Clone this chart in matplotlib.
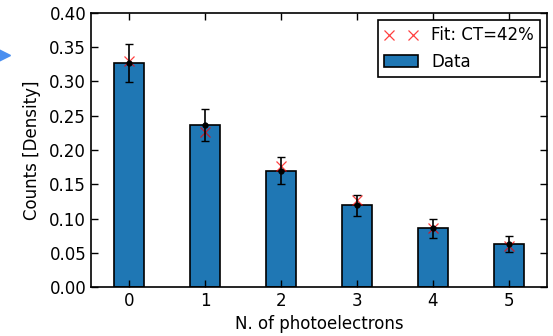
import numpy as np
import matplotlib.pyplot as plt
from matplotlib.lines import Line2D

# photoelectron counts
n_pe = np.array([0, 1, 2, 3, 4, 5])
density = np.array([0.327, 0.2365, 0.170, 0.119, 0.086, 0.063])
errors = np.array([0.028, 0.024, 0.020, 0.016, 0.014, 0.012])
fit = np.array([0.330, 0.226, 0.177, 0.127, 0.086, 0.060])

plt.rcParams['font.family'] = 'DejaVu Sans'
plt.rcParams['font.size'] = 12

fig = plt.figure(figsize=(5.53, 3.36), dpi=100)
ax = fig.add_axes([91/553, 1-287/336, 456/553, 274/336])

ax.bar(n_pe, density, width=0.4, color='#1f77b4', edgecolor='black',
       linewidth=1.2, label='Data', zorder=1)
ax.errorbar(n_pe, density, yerr=errors, fmt='o', color='black', ms=3.5,
            capsize=3, elinewidth=1.2, capthick=1, zorder=3)
ax.plot(n_pe, fit, 'x', color='red', ms=7, mew=0.9, alpha=0.75,
        label='Fit: CT=42%', zorder=2)

ax.set_xlim(-0.5, 5.5)
ax.set_ylim(0, 0.4)
ax.set_xticks(n_pe)
ax.set_yticks(np.arange(0, 0.401, 0.05))
ax.set_yticklabels(['%.2f' % v for v in np.arange(0, 0.401, 0.05)])
ax.tick_params(direction='in', top=True, right=True, length=5, width=1)
for s in ax.spines.values():
    s.set_linewidth(1.2)

ax.set_xlabel('N. of photoelectrons')
ax.set_ylabel('Counts [Density]', labelpad=6)

leg = ax.legend(loc='upper right', numpoints=2, fancybox=False,
                framealpha=1, edgecolor='black', borderaxespad=0.4)
leg.get_frame().set_linewidth(1.2)

# stray marker at left edge of the original page
fig.add_artist(Line2D([0.008], [1-55/336], marker='>', color='#4a8ff0',
                      ms=9, transform=fig.transFigure))

fig.savefig('out.png', dpi=100)
